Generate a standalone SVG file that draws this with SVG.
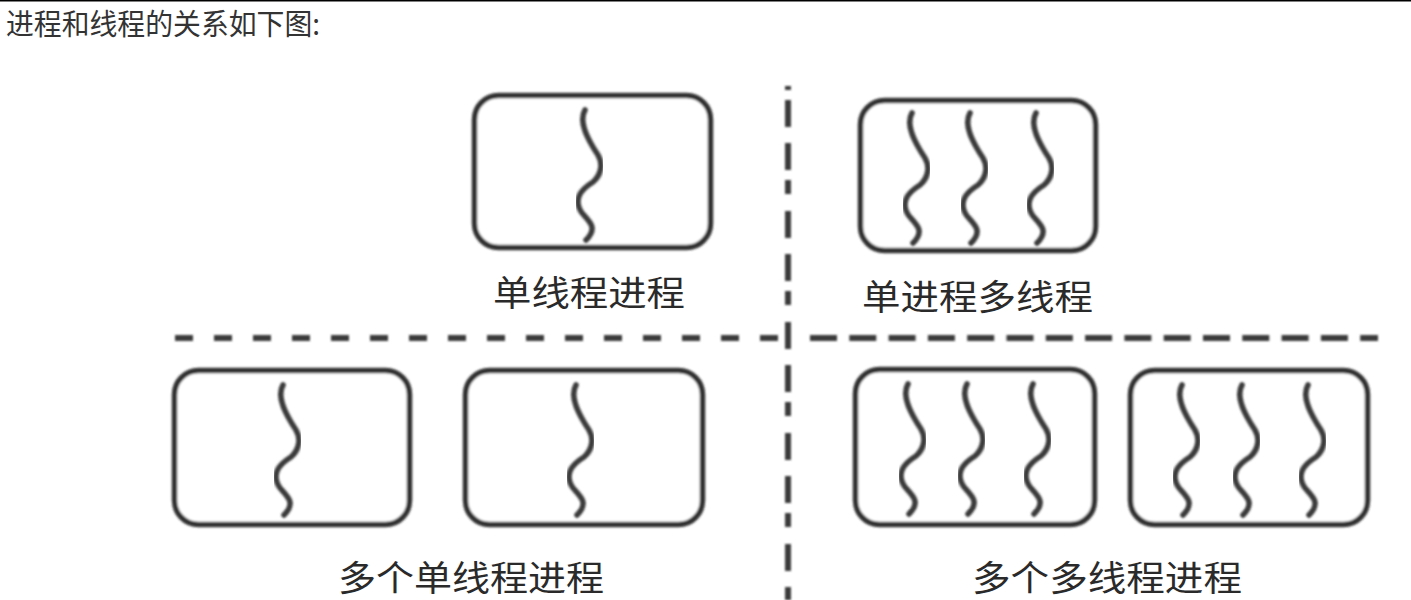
<svg xmlns="http://www.w3.org/2000/svg" xmlns:xlink="http://www.w3.org/1999/xlink" width="1411" height="600" viewBox="0 0 1411 600">
<style>
.box{fill:#fff;stroke:#333;stroke-width:5.5;filter:url(#soft)}
.thr{fill:none;stroke:#3a3a3a;stroke-width:5.5;stroke-linecap:round;filter:url(#soft)}
.lbl{font-family:"Noto Sans CJK SC","Microsoft YaHei",sans-serif;font-size:35px;fill:#2a2a2a}
.title{font-family:"Noto Sans CJK SC","Microsoft YaHei",sans-serif;font-size:29px;fill:#333}
.dash{fill:none;stroke:#3a3a3a;filter:url(#softu)}
</style>
<defs>
<filter id="soft" x="-5%" y="-5%" width="110%" height="110%"><feGaussianBlur stdDeviation="0.9"/></filter>
<filter id="softu" filterUnits="userSpaceOnUse" x="0" y="0" width="1411" height="600"><feGaussianBlur stdDeviation="0.9"/></filter>
<path id="thread" d="M0,0 C-7,12 3,30 13,45 C19,55 15,66 8,72 C-5,80 -12,90 -3,103 C5,112 13,118 1,130"/>
</defs>
<rect x="0" y="0" width="1411" height="600" fill="#fff"/>
<line x1="0" y1="0.5" x2="1411" y2="0.5" stroke="#000" stroke-width="2"/>
<text class="title" x="6" y="35" textLength="314" lengthAdjust="spacingAndGlyphs">进程和线程的关系如下图:</text>

<g id="connectors">
<line class="dash" x1="175" y1="338" x2="783" y2="338" stroke-width="6" stroke-dasharray="18 21"/>
<line class="dash" x1="810" y1="338" x2="1378" y2="338" stroke-width="6" stroke-dasharray="27 12.3"/>
<line class="dash" x1="788" y1="86" x2="788" y2="90" stroke-width="6"/>
<line class="dash" x1="788" y1="100" x2="788" y2="600" stroke-width="6" stroke-dasharray="27 16 27 10 14 17"/>
</g>

<g id="single-thread-process">
<rect class="box" x="474.5" y="95.5" width="236" height="152" rx="24"/>
<use class="thr" xlink:href="#thread" href="#thread" x="585" y="110"/>
<text class="lbl" x="493" y="306" textLength="192" lengthAdjust="spacingAndGlyphs">单线程进程</text>
</g>

<g id="single-process-multi-thread">
<rect class="box" x="860.5" y="100.5" width="235" height="150" rx="24"/>
<use class="thr" xlink:href="#thread" href="#thread" x="912" y="113"/>
<use class="thr" xlink:href="#thread" href="#thread" x="970" y="113"/>
<use class="thr" xlink:href="#thread" href="#thread" x="1036" y="113"/>
<text class="lbl" x="862" y="310" textLength="231" lengthAdjust="spacingAndGlyphs">单进程多线程</text>
</g>

<g id="multi-single-thread-process">
<rect class="box" x="174.5" y="370.5" width="235" height="154" rx="24"/>
<use class="thr" xlink:href="#thread" href="#thread" x="283" y="385"/>
<rect class="box" x="465.5" y="370.5" width="237" height="154" rx="24"/>
<use class="thr" xlink:href="#thread" href="#thread" x="576" y="385"/>
<text class="lbl" x="338" y="591" textLength="266" lengthAdjust="spacingAndGlyphs">多个单线程进程</text>
</g>

<g id="multi-multi-thread-process">
<rect class="box" x="855.5" y="369.5" width="239" height="155" rx="24"/>
<use class="thr" xlink:href="#thread" href="#thread" x="908" y="384"/>
<use class="thr" xlink:href="#thread" href="#thread" x="967" y="384"/>
<use class="thr" xlink:href="#thread" href="#thread" x="1033" y="384"/>
<rect class="box" x="1130.5" y="370.5" width="237" height="154" rx="24"/>
<use class="thr" xlink:href="#thread" href="#thread" x="1182" y="385"/>
<use class="thr" xlink:href="#thread" href="#thread" x="1242" y="385"/>
<use class="thr" xlink:href="#thread" href="#thread" x="1308" y="385"/>
<text class="lbl" x="972" y="591" textLength="270" lengthAdjust="spacingAndGlyphs">多个多线程进程</text>
</g>
</svg>
